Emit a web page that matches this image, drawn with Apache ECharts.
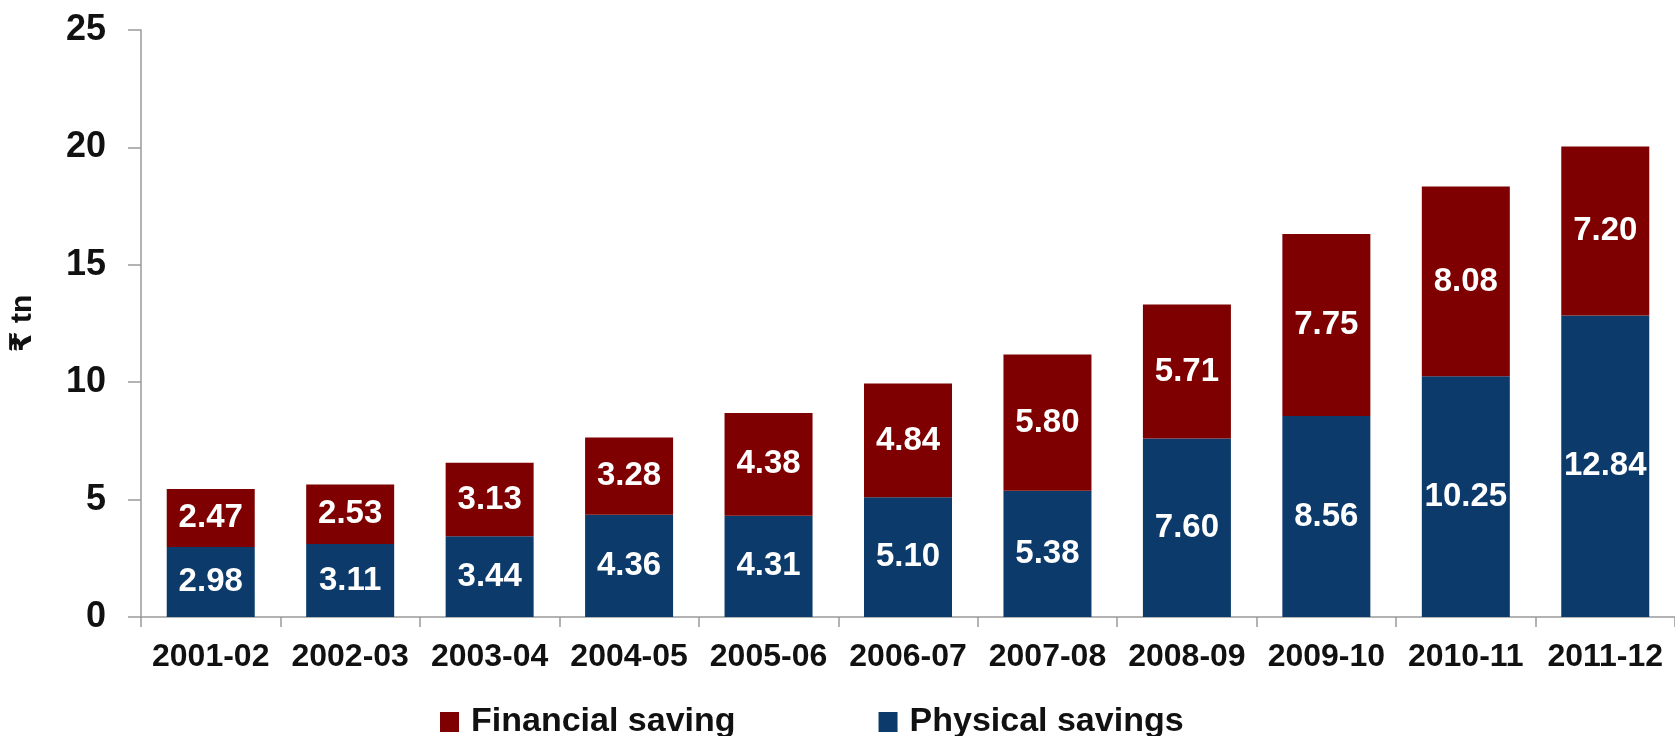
<!DOCTYPE html>
<html>
<head>
<meta charset="utf-8">
<script src="https://cdn.jsdelivr.net/npm/echarts@6/dist/echarts.min.js"></script>
<style>
  html, body { margin: 0; padding: 0; background: #ffffff; }
  #chart { width: 1675px; height: 736px; }
</style>
</head>
<body>
<div id="chart"></div>
<script>
// Household savings in India, ₹ trillion
const years = ['2001-02', '2002-03', '2003-04', '2004-05', '2005-06', '2006-07',
               '2007-08', '2008-09', '2009-10', '2010-11', '2011-12'];
const physicalSavings = [2.98, 3.11, 3.44, 4.36, 4.31, 5.10, 5.38, 7.60, 8.56, 10.25, 12.84];
const financialSaving = [2.47, 2.53, 3.13, 3.28, 4.38, 4.84, 5.80, 5.71, 7.75, 8.08, 7.20];
const yTicks = { min: 0, max: 25, interval: 5 };

const FONT = '"Liberation Sans", Arial, "DejaVu Sans", sans-serif';
const RED = '#7E0000';
const BLUE = '#0B3A6B';
const AXIS = '#9a9a9a';

const chart = echarts.init(document.getElementById('chart'), null, { renderer: 'canvas' });

const barLabel = {
  show: true,
  position: 'inside',
  color: '#ffffff',
  fontFamily: FONT,
  fontWeight: 'bold',
  fontSize: 33,
  formatter: p => p.value.toFixed(2)
};

chart.setOption({
  animation: false,
  backgroundColor: '#ffffff',
  grid: { left: 137, top: 30, width: 1540, height: 587, containLabel: false },
  legend: {
    data: ['Financial saving', 'Physical savings'],
    left: 435,
    top: 700,
    itemWidth: 19,
    itemHeight: 20,
    itemGap: 143,
    icon: 'rect',
    textStyle: {
      fontFamily: FONT,
      fontWeight: 'bold',
      fontSize: 34,
      color: '#111111',
      padding: [0, 0, 0, 7]
    }
  },
  xAxis: {
    type: 'category',
    data: years,
    boundaryGap: true,
    axisLine: { show: true, lineStyle: { color: AXIS, width: 1.5 } },
    axisTick: { show: true, length: 10, interval: 0, lineStyle: { color: AXIS, width: 1.5 } },
    axisLabel: {
      interval: 0,
      margin: 24,
      color: '#111111',
      fontFamily: FONT,
      fontWeight: 'bold',
      fontSize: 32
    }
  },
  yAxis: {
    type: 'value',
    min: yTicks.min,
    max: yTicks.max,
    interval: yTicks.interval,
    name: '₹ tn',
    nameLocation: 'middle',
    nameRotate: 90,
    nameGap: 103,
    nameTextStyle: {
      fontFamily: FONT,
      fontWeight: 'bold',
      fontSize: 30,
      color: '#111111'
    },
    splitLine: { show: false },
    axisLine: { show: true, lineStyle: { color: AXIS, width: 1.5 } },
    axisTick: { show: true, length: 13, lineStyle: { color: AXIS, width: 1.5 } },
    axisLabel: {
      margin: 35,
      color: '#111111',
      fontFamily: FONT,
      fontWeight: 'bold',
      fontSize: 36
    }
  },
  series: [
    {
      name: 'Physical savings',
      type: 'bar',
      stack: 'total',
      barWidth: 88,
      data: physicalSavings,
      itemStyle: { color: BLUE },
      label: barLabel
    },
    {
      name: 'Financial saving',
      type: 'bar',
      stack: 'total',
      barWidth: 88,
      data: financialSaving,
      itemStyle: { color: RED },
      label: barLabel
    }
  ]
});
</script>
</body>
</html>
